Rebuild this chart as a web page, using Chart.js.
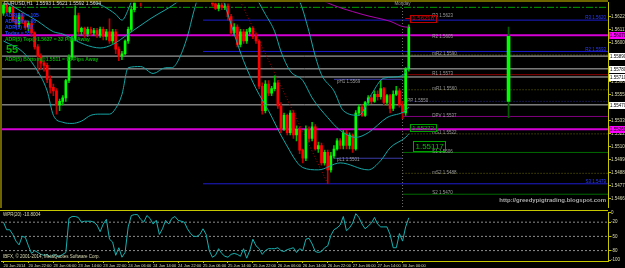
<!DOCTYPE html>
<html>
<head>
<meta charset="utf-8">
<script src="https://cdn.jsdelivr.net/npm/chart.js@4.4.1/dist/chart.umd.min.js"></script>
<style>
  html, body { margin: 0; padding: 0; background: #000; overflow: hidden; }
  #wrap { position: relative; width: 625px; height: 268px; background: #000; }
  canvas { position: absolute; left: 0; background: #000; }
  #main { top: 0; }
  #osc { top: 210px; }
</style>
</head>
<body>
<div id="wrap">
  <canvas id="main" width="625" height="210"></canvas>
  <canvas id="osc" width="625" height="58"></canvas>
</div>
<script>
// EURUSD H1, 20 Jun - 30 Jun 2014
const openP = [
  1.5626,1.5633,1.5627,1.5631,1.5620,1.5617,1.5624,1.5619,1.5614,1.5617,
  1.5609,1.5597,1.5589,1.5583,1.5581,1.5569,1.5562,1.5559,1.5547,1.5550,
  1.5553,1.5568,1.5588,1.5603,1.5624,1.5610,1.5613,1.5608,1.5612,1.5609,
  1.5611,1.5607,1.5612,1.5606,1.5610,1.5602,1.5610,1.5595,1.5589,1.5591,
  1.5602,1.5612,1.5629,1.5649,1.5653,1.5644,1.5653,1.5666,1.5661,1.5674,
  1.5670,1.5683,1.5679,1.5687,1.5677,1.5680,1.5670,1.5674,1.5666,1.5668,
  1.5660,1.5657,1.5661,1.5651,1.5655,1.5646,1.5649,1.5638,1.5634,1.5630,
  1.5633,1.5631,1.5632,1.5623,1.5609,1.5614,1.5599,1.5610,1.5602,1.5610,
  1.5613,1.5606,1.5602,1.5563,1.5542,1.5565,1.5557,1.5561,1.5566,1.5546,
  1.5526,1.5538,1.5523,1.5540,1.5521,1.5526,1.5508,1.5501,1.5526,1.5518,
  1.5528,1.5509,1.5512,1.5497,1.5506,1.5491,1.5503,1.5509,1.5516,1.5512,
  1.5523,1.5512,1.5521,1.5509,1.5540,1.5545,1.5538,1.5549,1.5553,1.5550,
  1.5556,1.5554,1.5561,1.5549,1.5555,1.5544,1.5556,1.5559,1.5547,1.5540,
  1.5578
];
const closeP = [
  1.5633,1.5627,1.5631,1.5620,1.5617,1.5624,1.5619,1.5614,1.5617,1.5609,
  1.5597,1.5589,1.5583,1.5581,1.5569,1.5562,1.5559,1.5547,1.5550,1.5553,
  1.5568,1.5588,1.5603,1.5624,1.5610,1.5613,1.5608,1.5612,1.5609,1.5611,
  1.5607,1.5612,1.5606,1.5610,1.5602,1.5610,1.5595,1.5589,1.5591,1.5602,
  1.5612,1.5629,1.5649,1.5653,1.5644,1.5653,1.5666,1.5661,1.5674,1.5670,
  1.5683,1.5679,1.5687,1.5677,1.5680,1.5670,1.5674,1.5666,1.5668,1.5660,
  1.5657,1.5661,1.5651,1.5655,1.5646,1.5649,1.5638,1.5634,1.5630,1.5633,
  1.5631,1.5632,1.5623,1.5609,1.5614,1.5599,1.5610,1.5602,1.5610,1.5613,
  1.5606,1.5602,1.5563,1.5542,1.5565,1.5557,1.5561,1.5566,1.5546,1.5526,
  1.5538,1.5523,1.5540,1.5521,1.5526,1.5508,1.5501,1.5526,1.5518,1.5528,
  1.5509,1.5512,1.5497,1.5506,1.5491,1.5503,1.5509,1.5516,1.5512,1.5523,
  1.5512,1.5521,1.5509,1.5540,1.5545,1.5538,1.5549,1.5553,1.5550,1.5556,
  1.5554,1.5561,1.5549,1.5555,1.5544,1.5556,1.5559,1.5547,1.5540,1.5578,
  1.5614
];
const highP = [
  1.5636,1.5634,1.5632,1.5632,1.5623,1.5626,1.5626,1.5620,1.5619,1.5619,
  1.5610,1.5599,1.5591,1.5585,1.5583,1.5572,1.5565,1.5561,1.5552,1.5555,
  1.5569,1.5590,1.5606,1.5632,1.5626,1.5614,1.5614,1.5614,1.5614,1.5613,
  1.5613,1.5614,1.5614,1.5612,1.5621,1.5612,1.5612,1.5597,1.5593,1.5603,
  1.5614,1.5632,1.5651,1.5657,1.5655,1.5655,1.5668,1.5668,1.5677,1.5677,
  1.5685,1.5687,1.5689,1.5689,1.5683,1.5683,1.5677,1.5677,1.5670,1.5670,
  1.5661,1.5663,1.5663,1.5657,1.5657,1.5651,1.5651,1.5640,1.5640,1.5635,
  1.5636,1.5634,1.5634,1.5625,1.5617,1.5616,1.5612,1.5612,1.5612,1.5614,
  1.5614,1.5609,1.5603,1.5566,1.5568,1.5568,1.5563,1.5572,1.5568,1.5549,
  1.5540,1.5539,1.5542,1.5542,1.5529,1.5528,1.5509,1.5529,1.5528,1.5532,
  1.5530,1.5515,1.5514,1.5508,1.5508,1.5506,1.5512,1.5518,1.5518,1.5525,
  1.5525,1.5523,1.5522,1.5542,1.5547,1.5547,1.5550,1.5555,1.5555,1.5559,
  1.5559,1.5568,1.5562,1.5556,1.5556,1.5559,1.5563,1.5561,1.5550,1.5579,
  1.5616
];
const lowP = [
  1.5624,1.5626,1.5626,1.5619,1.5614,1.5614,1.5617,1.5612,1.5611,1.5606,
  1.5595,1.5574,1.5578,1.5576,1.5566,1.5557,1.5555,1.5539,1.5542,1.5547,
  1.5550,1.5566,1.5586,1.5602,1.5608,1.5607,1.5605,1.5606,1.5607,1.5607,
  1.5605,1.5605,1.5603,1.5603,1.5600,1.5600,1.5591,1.5585,1.5586,1.5590,
  1.5600,1.5610,1.5627,1.5644,1.5632,1.5643,1.5651,1.5660,1.5660,1.5668,
  1.5668,1.5677,1.5677,1.5674,1.5674,1.5668,1.5668,1.5663,1.5663,1.5657,
  1.5655,1.5655,1.5649,1.5649,1.5644,1.5643,1.5636,1.5632,1.5629,1.5628,
  1.5629,1.5629,1.5620,1.5607,1.5607,1.5597,1.5597,1.5600,1.5600,1.5608,
  1.5604,1.5600,1.5561,1.5539,1.5540,1.5555,1.5555,1.5559,1.5544,1.5523,
  1.5525,1.5521,1.5521,1.5518,1.5516,1.5505,1.5497,1.5499,1.5515,1.5516,
  1.5508,1.5506,1.5495,1.5495,1.5479,1.5489,1.5501,1.5508,1.5509,1.5509,
  1.5509,1.5509,1.5506,1.5508,1.5538,1.5537,1.5537,1.5547,1.5548,1.5549,
  1.5551,1.5552,1.5547,1.5547,1.5540,1.5542,1.5555,1.5545,1.5535,1.5538,
  1.5576
];

// Bollinger bands, sampled where they can be read
const bbUpperIdx = [0,12,22,27,29,32,36,38,40,42,47,63,83,92,95,98,100,102,106,109,114,118,122,128,130];
const bbUpper = [1.5670,1.5661,1.5649,1.5640,1.5636,1.5632,1.5625,1.5620,1.5629,1.5644,1.5687,1.5713,1.5679,
  1.5644,1.5636,1.5610,1.5589,1.5573,1.5559,1.5542,1.5538,1.5556,1.5570,1.5572,1.5580];
const bbMidIdx = [0,6,11,16,19,26,31,35,40,47,56,63,73,80,84,87,89,92,96,99,104,108,113,117,123,129,130];
const bbMid = [1.5637,1.5627,1.5619,1.5610,1.5608,1.5599,1.5596,1.5599,1.5608,1.5621,1.5636,1.5653,1.5657,
  1.5643,1.5625,1.5610,1.5593,1.5576,1.5568,1.5553,1.5536,1.5525,1.5519,1.5523,1.5536,1.5542,1.5545];
const bbLowIdx = [0,6,10,14,16,19,22,25,28,31,34,36,38,40,44,48,52,54,56,59,61,63,67,70,72,74,77,81,85,90,
  96,101,108,117,121,124,129,130];
const bbLow = [1.5602,1.5593,1.5580,1.5559,1.5538,1.5532,1.5531,1.5533,1.5538,1.5539,1.5539,1.5544,1.5556,
  1.5579,1.5580,1.5574,1.5579,1.5579,1.5585,1.5606,1.5627,1.5644,1.5653,1.5640,1.5625,1.5608,1.5585,1.5561,
  1.5542,1.5516,1.5493,1.5491,1.5497,1.5491,1.5499,1.5510,1.5519,1.5522];

// slow moving average (magenta) and the drawn trend line
const maIdx = [80,95,103,115,124,129,130];
const maVals = [1.5670,1.5649,1.5636,1.5625,1.5619,1.5614,1.5614];
const trendIdx = [76,104];
const trendVals = [1.5636,1.5479];

// today's daily candle, drawn to the right of the bars
const dayIdx = 162;
const dayOHLC = [1.5550, 1.5614, 1.5536, 1.5606];

// horizontal levels
const grayLevels = [1.5589, 1.5578, 1.5571, 1.5547];
const magentaLevels = [1.5607, 1.5526];
const blueLevels = [1.5620, 1.5593, 1.5479];
const blueNames = ['R3 1.5620', 'R2 1.5593', 'S3 1.5479'];
const blueFrom = 64;
const adrTop = 1.5631;
const pivotNames = ['R3','R2','mR2','R1','mR1','PP','DPV','mS1','S1','mS2','S2'];
const pivotValues = [1.5623,1.5605,1.5590,1.5573,1.5560,1.5550,1.5537,1.5522,1.5506,1.5488,1.5470];
const pivotFrom = 128;
const prevDayNames = ['pH1', 'pL1'];
const prevDayValues = [1.5569, 1.5501];
const prevDayFrom = 106;
const axisMarks = [1.5607, 1.5589, 1.5578, 1.5571, 1.5547, 1.5526];
const priceTags = [1.56218, 1.55272, 1.55117];

// Williams %R (20)
const wpr = [
  -20,-36,-36,-46,-60,-68,-50,-52,-70,-86,
  -80,-84,-88,-90,-88,-94,-88,-92,-92,-88,
  -84,-12,-8,-8,-10,-20,-18,-18,-18,-20,
  -26,-40,-24,-14,-56,-62,-90,-74,-94,-84,
  -30,-6,-4,-4,-14,-20,-6,-12,-24,-16,
  -46,-34,-16,-24,-12,-8,-16,-18,-20,-34,
  -44,-50,-50,-46,-34,-46,-80,-94,-90,-76,
  -86,-92,-94,-88,-86,-88,-92,-76,-96,-80,
  -56,-70,-76,-88,-80,-76,-76,-76,-74,-80,
  -82,-78,-76,-74,-84,-76,-80,-56,-54,-66,
  -82,-84,-82,-74,-70,-48,-36,-32,-26,-8,
  -38,-32,-22,-2,-10,-24,-34,-28,-22,-10,
  -24,-30,-30,-30,-46,-74,-74,-44,-60,-30,
  -10.8
];
const wprLevels = [-20, -50, -80];
const wprTicks = [0, -20, -50, -80, -100];

// axis ticks
const priceTicks = [1.56229,1.56117,1.56005,1.55893,1.55781,1.55669,1.55557,1.55445,1.55333,1.55221,
  1.55109,1.54997,1.54885,1.54773,1.54661];
const timeIdx = [0,8,16,24,32,40,48,56,64,72,80,88,96,104,112,120,128];
const timeLabels = ['20 Jun 2014','20 Jun 22:00','23 Jun 06:00','23 Jun 14:00','23 Jun 22:00','24 Jun 06:00',
  '24 Jun 14:00','24 Jun 22:00','25 Jun 06:00','25 Jun 14:00','25 Jun 22:00','26 Jun 06:00','26 Jun 14:00',
  '26 Jun 22:00','27 Jun 06:00','27 Jun 14:00','30 Jun 00:00'];

const X_MIN = -0.8, X_MAX = 193.9;
const Y_MIN = 1.5459, Y_MAX = 1.5635;

const AXIS = '#c8c800';
const TXT = '#dcdcb4';
const FONT = '"Liberation Sans", Arial, sans-serif';

const bars = openP.map((_, i) => i);
const isBull = i => closeP[i] >= openP[i];

function pts(idx, vals) { return idx.map((x, k) => ({ x: x, y: vals[k] })); }
function hline(v, from, to) { return [{ x: from, y: v }, { x: to === undefined ? X_MAX : to, y: v }]; }
function lineDs(data, color, extra) {
  return Object.assign({ type: 'line', data: data, borderColor: color, borderWidth: 1,
    pointRadius: 0, fill: false, tension: 0, order: 10 }, extra || {});
}

const pivotStyle = {
  mR2: ['#6b6b00', [1, 2]], R1: ['#8b0000', []], mR1: ['#6b6b00', [1, 2]], PP: ['#2a2a90', [1, 2]],
  DPV: ['#800080', []], mS1: ['#6b6b00', [1, 2]], S1: ['#006a00', []], mS2: ['#6b6b00', [1, 2]], S2: ['#006a00', []]
};

// ---- main panel datasets
const mainSets = [];
grayLevels.forEach(v => mainSets.push(lineDs(hline(v, X_MIN), '#bcbcbc')));
blueLevels.forEach(v => mainSets.push(lineDs(hline(v, blueFrom), '#1c1cd0')));
pivotNames.forEach((n, k) => {
  const s = pivotStyle[n];
  if (s) mainSets.push(lineDs(hline(pivotValues[k], pivotFrom), s[0], { borderDash: s[1] }));
});
prevDayValues.forEach(v => mainSets.push(lineDs(hline(v, prevDayFrom, pivotFrom), '#3c3ca8')));
magentaLevels.forEach(v => mainSets.push(lineDs(hline(v, X_MIN), '#d400d4', { borderWidth: 2 })));
mainSets.push(lineDs(hline(adrTop, X_MIN), '#00a000', { borderDash: [7, 2, 2, 2] }));
mainSets.push(lineDs([{ x: pivotFrom, y: Y_MIN }, { x: pivotFrom, y: Y_MAX }], '#707070', { borderDash: [1, 2], order: 9 }));
mainSets.push(lineDs(pts(trendIdx, trendVals), '#b00000', { borderDash: [1, 2], order: 5 }));

mainSets.push({
  type: 'bar', data: bars.map(i => ({ x: i, y: [lowP[i], highP[i]] })),
  backgroundColor: bars.map(i => isBull(i) ? '#00c000' : '#c00000'),
  barThickness: 1, grouped: false, order: 4
});
mainSets.push({
  type: 'bar', data: bars.map(i => ({ x: i, y: [openP[i], closeP[i]] })),
  backgroundColor: bars.map(i => isBull(i) ? '#00ff00' : '#ff0000'),
  barThickness: 2, minBarLength: 1, grouped: false, order: 3
});
mainSets.push({
  type: 'bar', data: [{ x: dayIdx, y: [dayOHLC[2], dayOHLC[1]] }],
  backgroundColor: '#006000', barThickness: 1, grouped: false, order: 4
});
mainSets.push({
  type: 'bar', data: [{ x: dayIdx, y: [dayOHLC[0], dayOHLC[3]] }],
  backgroundColor: '#00ff00', barThickness: 3, grouped: false, order: 3
});

const bandStyle = { cubicInterpolationMode: 'monotone', order: 1 };
mainSets.push(lineDs(pts(bbUpperIdx, bbUpper), '#15a5a5', bandStyle));
mainSets.push(lineDs(pts(bbMidIdx, bbMid), '#15a5a5', bandStyle));
mainSets.push(lineDs(pts(bbLowIdx, bbLow), '#15a5a5', bandStyle));
mainSets.push(lineDs(pts(maIdx, maVals), '#b000b0', { cubicInterpolationMode: 'monotone', order: 2 }));

const mainOverlay = {
  id: 'mainOverlay',
  afterDatasetsDraw(chart) {
    const { ctx, scales: { x, y }, chartArea: a } = chart;
    ctx.save();
    ctx.fillStyle = '#6e6400';
    ctx.fillRect(0, 0, a.right, 2);
    ctx.fillRect(0, 0, 2, a.bottom + 1);
    ctx.textBaseline = 'middle';

    ctx.font = '5px ' + FONT;
    ctx.fillStyle = '#d8d8d8';
    ctx.fillText('EURUSD,H1  1.5593 1.5621 1.5592 1.5604', 4, 4);

    ctx.font = 'bold 5px ' + FONT;
    ctx.fillStyle = '#2040ff';
    ['ADR(10) = 105', 'ADR(20) = 86', 'ADR(5) = 82', 'Today = 55'].forEach((t, k) => ctx.fillText(t, 5, 16 + k * 6));
    ctx.fillStyle = '#00b000';
    ctx.fillText('ADR(5) Top@1.5637 = 32 Pips Away', 5, 40);
    ctx.fillText('ADR(5) Bottom@1.5511 = 93 Pips Away', 5, 60);
    ctx.font = 'bold 11px ' + FONT;
    ctx.fillText('55', 6, 50);

    // pivot labels
    ctx.font = '4.5px ' + FONT;
    ctx.fillStyle = '#9c9c9c';
    pivotNames.forEach((n, k) => {
      const px = n === 'PP' ? x.getPixelForValue(pivotFrom + 1.5) : x.getPixelForValue(pivotFrom + 9.5);
      ctx.fillText(n + ' ' + pivotValues[k].toFixed(4), px, y.getPixelForValue(pivotValues[k]) - 1);
    });
    prevDayNames.forEach((n, k) => {
      ctx.fillText(n + ' ' + prevDayValues[k].toFixed(4), x.getPixelForValue(prevDayFrom + 1), y.getPixelForValue(prevDayValues[k]) + 2);
    });
    ctx.textAlign = 'center';
    ctx.fillText('Monday', x.getPixelForValue(pivotFrom), 4);

    ctx.textAlign = 'right';
    ctx.fillStyle = '#2a3cff';
    blueLevels.forEach((v, k) => ctx.fillText(blueNames[k], a.right - 2, y.getPixelForValue(v) - 2));

    ctx.font = 'bold 6px ' + FONT;
    ctx.fillStyle = '#a8a8a8';
    ctx.fillText('http://greedypigtrading.blogspot.com', a.right - 2, 200);

    // price tags inside the plot
    ctx.textAlign = 'left';
    priceTags.forEach((v, k) => {
      const big = k === 2;
      const px = x.getPixelForValue(k === 2 ? 131.5 : 130.5);
      const py = y.getPixelForValue(v);
      ctx.font = (big ? '8px ' : '6px ') + FONT;
      const w = ctx.measureText(v.toFixed(5)).width + 4;
      const h = big ? 10 : 7;
      ctx.strokeStyle = k === 0 ? '#c00000' : '#00a000';
      ctx.lineWidth = 1;
      ctx.strokeRect(Math.round(px) + 0.5, Math.round(py - h / 2) + 0.5, Math.round(w), h);
      ctx.fillStyle = k === 0 ? '#e00000' : '#00c000';
      ctx.fillText(v.toFixed(5), px + 2, py + 0.5);
      if (k === 0) {
        ctx.beginPath();
        ctx.moveTo(px - 5, py + 0.5);
        ctx.lineTo(px, py + 0.5);
        ctx.stroke();
      }
    });

    // boxed prices on the axis
    ctx.font = '4.5px ' + FONT;
    axisMarks.forEach(v => {
      const py = Math.round(y.getPixelForValue(v));
      const mag = magentaLevels.includes(v);
      ctx.fillStyle = mag ? '#ff00ff' : '#ffffff';
      ctx.fillRect(a.right + 1, py - 3, 17, 7);
      ctx.fillStyle = '#000';
      ctx.fillText(v.toFixed(5), a.right + 2, py + 0.5);
    });
    ctx.restore();
  }
};

new Chart(document.getElementById('main'), {
  type: 'bar',
  data: { datasets: mainSets },
  options: {
    responsive: false, animation: false, events: [], devicePixelRatio: 1,
    layout: { padding: { left: 1, top: 1, right: 0, bottom: 3 } },
    plugins: { legend: { display: false }, tooltip: { enabled: false } },
    scales: {
      x: { type: 'linear', min: X_MIN, max: X_MAX, offset: false, display: false },
      y: {
        position: 'right', min: Y_MIN, max: Y_MAX,
        afterBuildTicks: s => { s.ticks = priceTicks.map(v => ({ value: v })); },
        afterFit: s => { s.width = 17; },
        grid: { drawOnChartArea: false, color: AXIS, tickLength: 3 },
        border: { color: AXIS },
        ticks: { color: TXT, font: { size: 4.5, family: FONT }, padding: 0, autoSkip: false, callback: v => v.toFixed(5) }
      }
    }
  },
  plugins: [mainOverlay]
});

// ---- WPR panel
const oscSets = [];
wprLevels.forEach(v => oscSets.push(lineDs(hline(v, X_MIN), '#8c8c8c', { borderDash: [2, 2] })));
oscSets.push(lineDs(bars.map(i => ({ x: i, y: wpr[i] })), '#18b0b0', { order: 1 }));

const oscOverlay = {
  id: 'oscOverlay',
  afterDatasetsDraw(chart) {
    const { ctx, chartArea: a } = chart;
    ctx.save();
    ctx.fillStyle = AXIS;
    ctx.fillRect(0, 0, a.right, 1);
    ctx.font = '4.5px ' + FONT;
    ctx.textBaseline = 'middle';
    ctx.fillStyle = TXT;
    ctx.fillText('WPR(20) -10.8004', 3, 5);
    ctx.fillText('IBFX, \u00a9 2001-2014, MetaQuotes Software Corp.', 3, 47);
    ctx.restore();
  }
};

new Chart(document.getElementById('osc'), {
  type: 'line',
  data: { datasets: oscSets },
  options: {
    responsive: false, animation: false, events: [], devicePixelRatio: 1,
    layout: { padding: { left: 1, top: 0, right: 0, bottom: 0 } },
    plugins: { legend: { display: false }, tooltip: { enabled: false } },
    scales: {
      x: {
        type: 'linear', min: X_MIN, max: X_MAX, offset: false, position: 'bottom',
        afterBuildTicks: s => { s.ticks = timeIdx.map(v => ({ value: v })); },
        afterFit: s => { s.height = 7; },
        grid: { drawOnChartArea: false, color: AXIS, tickLength: 2 },
        border: { color: AXIS },
        ticks: { color: TXT, font: { size: 4, family: FONT }, padding: 0, autoSkip: false, maxRotation: 0,
          align: 'start', callback: (v, k) => timeLabels[k] }
      },
      y: {
        position: 'right', min: -102, max: 0,
        afterBuildTicks: s => { s.ticks = wprTicks.map(v => ({ value: v })); },
        afterFit: s => { s.width = 17; },
        grid: { drawOnChartArea: false, color: AXIS, tickLength: 3 },
        border: { color: AXIS },
        ticks: { color: TXT, font: { size: 4.5, family: FONT }, padding: 0, autoSkip: false, callback: v => String(v) }
      }
    }
  },
  plugins: [oscOverlay]
});
</script>
</body>
</html>
